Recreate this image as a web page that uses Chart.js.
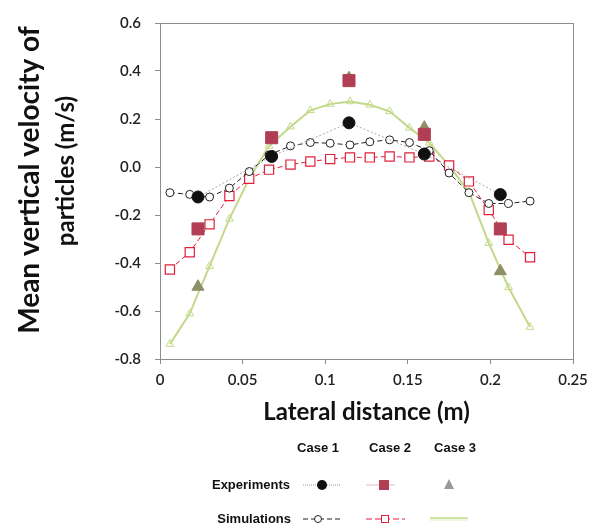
<!DOCTYPE html>
<html>
<head>
<meta charset="utf-8">
<script src="https://cdn.jsdelivr.net/npm/chart.js@4.4.1/dist/chart.umd.min.js"></script>
<style>
  body{margin:0;background:#fff;}
  #wrap{position:relative;width:606px;height:529px;}
</style>
</head>
<body>
<div id="wrap"><canvas id="chart" width="606" height="529"></canvas></div>
<script>
// experiments, lateral positions and velocities
var expX = [0.023, 0.0676, 0.1144, 0.160, 0.206];
var expCase1 = [-0.125, 0.044, 0.184, 0.054, -0.115];
var expCase2 = [-0.258, 0.122, 0.360, 0.136, -0.258];
var expCase3 = [-0.499, 0.120, 0.370, 0.164, -0.434];

// simulations
var simX = [0.006, 0.018, 0.030, 0.042, 0.054, 0.066, 0.079, 0.091, 0.103, 0.115,
            0.127, 0.139, 0.151, 0.163, 0.175, 0.187, 0.199, 0.211, 0.224];
var simCase1 = [-0.107, -0.114, -0.125, -0.088, -0.019, 0.050, 0.088, 0.102, 0.099, 0.092,
                0.105, 0.113, 0.102, 0.068, -0.025, -0.107, -0.152, -0.152, -0.142];
var simCase2 = [-0.427, -0.355, -0.239, -0.121, -0.049, -0.011, 0.010, 0.023, 0.033, 0.040,
                0.040, 0.044, 0.040, 0.044, 0.006, -0.060, -0.179, -0.303, -0.376];
var simCase3 = [-0.738, -0.611, -0.413, -0.216, -0.049, 0.088, 0.168, 0.236, 0.262, 0.273,
                0.259, 0.232, 0.163, 0.101, 0.006, -0.104, -0.317, -0.502, -0.667];

var xTickLabels = ['0', '0.05', '0.1', '0.15', '0.2', '0.25'];
var yTickLabels = ['-0.8', '-0.6', '-0.4', '-0.2', '0.0', '0.2', '0.4', '0.6'];
var caseNames = ['Case 1', 'Case 2', 'Case 3'];
var rowNames = ['Experiments', 'Simulations'];

function pts(xs, ys){
  return xs.map(function(x, i){ return {x: x, y: ys[i]}; });
}

var C1 = '#111111', C2 = '#b23e55', C3 = '#8e8e68';
var S1 = '#222222', S2 = '#e0203c', S3 = '#c3d98a';

var datasets = [
  {data: pts(expX, expCase1), showLine: true, borderColor: '#aaaaaa', borderWidth: 1, borderDash: [2, 2],
   pointStyle: 'circle', pointRadius: 6, pointBackgroundColor: C1, pointBorderColor: C1},
  {data: pts(expX, expCase2), showLine: false,
   pointStyle: 'rect', pointRadius: 8.5, pointBackgroundColor: C2, pointBorderColor: C2},
  {data: pts(expX, expCase3), showLine: false,
   pointStyle: 'triangle', pointRadius: 7, pointBackgroundColor: C3, pointBorderColor: C3},
  {data: pts(simX, simCase1), showLine: true, borderColor: S1, borderWidth: 1, borderDash: [5, 3],
   pointStyle: 'circle', pointRadius: 4, pointBackgroundColor: '#fff', pointBorderColor: S1, pointBorderWidth: 1},
  {data: pts(simX, simCase2), showLine: true, borderColor: S2, borderWidth: 1, borderDash: [5, 3],
   pointStyle: 'rect', pointRadius: 6.5, pointBackgroundColor: '#fff', pointBorderColor: S2, pointBorderWidth: 1.2},
  {data: pts(simX, simCase3), showLine: true, borderColor: S3, borderWidth: 2,
   pointStyle: 'triangle', pointRadius: 4.5, pointBackgroundColor: 'rgba(255,255,255,0)', pointBorderColor: S3, pointBorderWidth: 1}
];

var framePlugin = {
  id: 'frame',
  beforeDatasetsDraw: function(chart){
    var a = chart.chartArea, ctx = chart.ctx;
    ctx.save();
    ctx.strokeStyle = '#8c8c8c';
    ctx.lineWidth = 1;
    ctx.strokeRect(Math.round(a.left) + 0.5, Math.round(a.top) + 0.5,
                   Math.round(a.right - a.left), Math.round(a.bottom - a.top));
    ctx.restore();
  },
  afterDraw: function(chart){
    var ctx = chart.ctx, a = chart.chartArea;
    ctx.save();
    ctx.fillStyle = '#111';
    ctx.textAlign = 'center';
    ctx.textBaseline = 'middle';
    // axis titles
    ctx.font = 'bold 24px Lato';
    ctx.fillText('Lateral distance (m)', (a.left + a.right) / 2, 412);
    ctx.save();
    ctx.rotate(-Math.PI / 2);
    ctx.font = 'bold 28px Lato';
    ctx.fillText('Mean vertical velocity of', -180, 30);
    ctx.font = 'bold 24px Lato';
    ctx.fillText('particles (m/s)', -171, 66);
    ctx.restore();

    // table legend
    ctx.font = 'bold 13px "Liberation Sans"';
    var colX = [318, 390, 455];
    caseNames.forEach(function(n, i){ ctx.fillText(n, colX[i], 448); });
    ctx.textAlign = 'right';
    ctx.fillText(rowNames[0], 290, 485);
    ctx.fillText(rowNames[1], 291, 519);

    function seg(x1, x2, y, col, dash, w){
      ctx.save();
      ctx.strokeStyle = col; ctx.lineWidth = w || 1; ctx.setLineDash(dash || []);
      ctx.beginPath(); ctx.moveTo(x1, y); ctx.lineTo(x2, y); ctx.stroke();
      ctx.restore();
    }
    // experiments row
    var ey = 485;
    seg(303, 340, ey, '#999', [1, 1]);
    ctx.fillStyle = C1;
    ctx.beginPath(); ctx.arc(322, ey, 5, 0, Math.PI * 2); ctx.fill();
    seg(366, 395, ey, '#e8b8c4', []);
    ctx.fillStyle = C2;
    ctx.fillRect(379, ey - 5, 10, 10);
    ctx.fillStyle = '#999';
    ctx.beginPath(); ctx.moveTo(449, ey - 6); ctx.lineTo(454, ey + 4); ctx.lineTo(444, ey + 4); ctx.closePath(); ctx.fill();
    // simulations row
    var sy = 519;
    seg(303, 340, sy, S1, [5, 3]);
    ctx.fillStyle = '#fff'; ctx.strokeStyle = S1; ctx.lineWidth = 1;
    ctx.beginPath(); ctx.arc(318, sy, 3.5, 0, Math.PI * 2); ctx.fill(); ctx.stroke();
    seg(366, 405, sy, S2, [6, 3]);
    ctx.fillStyle = '#fff'; ctx.strokeStyle = S2;
    ctx.fillRect(381, sy - 4, 8, 8); ctx.strokeRect(381.5, sy - 3.5, 7, 7);
    seg(430, 468, sy - 1, S3, [], 1.5);
    seg(430, 468, sy + 1, '#e3edc4', [], 1);
    ctx.restore();
  }
};

new Chart(document.getElementById('chart'), {
  type: 'scatter',
  data: {datasets: datasets},
  options: {
    responsive: false,
    animation: false,
    layout: {padding: {top: 19, right: 33, left: 0, bottom: 0}},
    plugins: {legend: {display: false}, tooltip: {enabled: false}},
    scales: {
      x: {
        type: 'linear', min: 0, max: 0.25,
        afterFit: function(s){ s.height = 170; },
        border: {display: false},
        grid: {drawOnChartArea: false, drawTicks: true, tickLength: 5, color: '#8c8c8c'},
        ticks: {stepSize: 0.05, padding: 7, color: '#222', font: {family: 'Lato', size: 15, weight: '600'},
          callback: function(v, i){ return xTickLabels[i]; }}
      },
      y: {
        min: -0.8, max: 0.6,
        afterFit: function(s){ s.width = 160; },
        border: {display: false},
        grid: {drawOnChartArea: false, drawTicks: true, tickLength: 5, color: '#8c8c8c'},
        ticks: {stepSize: 0.2, padding: 14, color: '#222', font: {family: 'Lato', size: 15, weight: '600'},
          callback: function(v, i){ return yTickLabels[i]; }}
      }
    }
  },
  plugins: [framePlugin]
});
</script>
</body>
</html>
